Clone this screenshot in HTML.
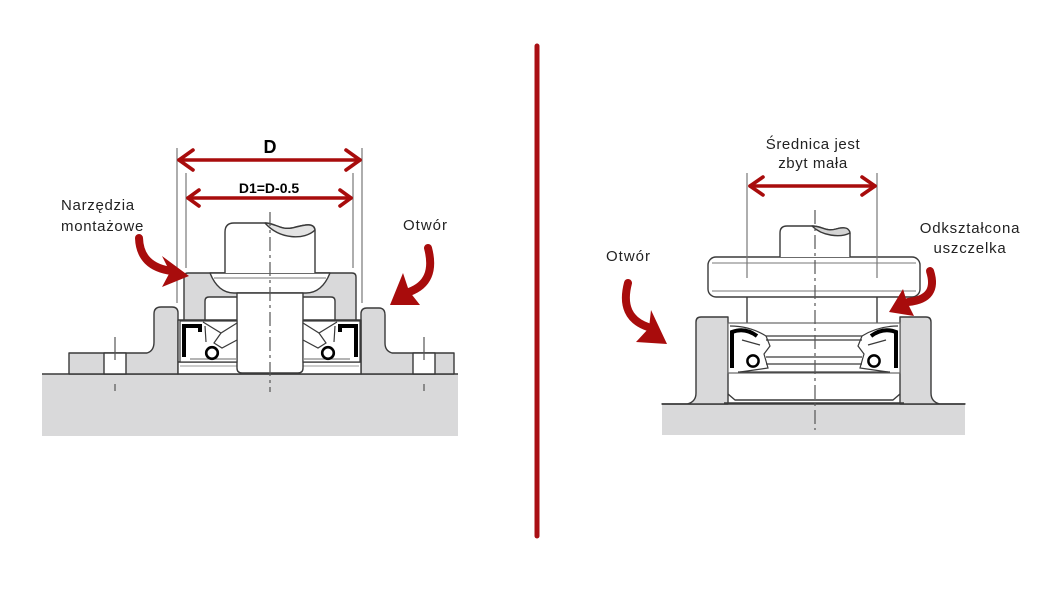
<!DOCTYPE html>
<html>
<head>
<meta charset="utf-8">
<style>
html,body{margin:0;padding:0;background:#fff;}
svg{display:block;}
text{font-family:"Liberation Sans","DejaVu Sans",sans-serif;fill:#222;}
</style>
</head>
<body>
<svg width="1050" height="600" viewBox="0 0 1050 600" xmlns="http://www.w3.org/2000/svg">
<rect width="1050" height="600" fill="#fff"/>

<!-- ============ LEFT DIAGRAM ============ -->
<g stroke="#3a3a3a" stroke-width="1.4" fill="#d9d9da" stroke-linejoin="round">
  <rect x="42" y="374" width="416" height="62" stroke="none"/>
  <line x1="42" y1="374" x2="458" y2="374"/>
  <path d="M69,374 V353 H147 Q154,351 154,342 V314 Q154,307 161,307 H172 Q178,307 178,313 V374 Z"/>
  <rect x="104" y="353" width="22" height="21" fill="#fff"/>
  <path d="M361,374 V314 Q361,308 367,308 H379 Q385,308 385,315 V343 Q385,351 392,353 H454 V374 Z"/>
  <rect x="413" y="353" width="22" height="21" fill="#fff"/>
  <rect x="178" y="320" width="183" height="54" fill="#fff"/>
  <line x1="178" y1="362" x2="361" y2="362"/>
  <line x1="180" y1="366" x2="359" y2="366" stroke="#999" stroke-width="1"/>
  <path d="M184,320 V277 Q184,273 188,273 H352 Q356,273 356,277 V320 Z"/>
  <path d="M205,320 V301 Q205,297 209,297 H331 Q335,297 335,301 V320 Z" fill="#fff"/>
  <path d="M210,273 Q218,293 234,293 H306 Q322,293 330,273 Z" fill="#fff"/>
  <line x1="214" y1="278" x2="326" y2="278" stroke="#777" stroke-width="1"/>
  <path d="M225,273 V232 Q225,223 234,223 H265 C275,223 280,230 292,228 C304,225 314,222 315,230 V273" fill="#fff"/>
  <path d="M265,223 C275,223 280,230 292,228 C304,225 314,222 315,230 C305,240 280,240 265,223 Z" fill="#e3e3e3"/>
  <path d="M237,293 V368 Q237,373 242,373 H298 Q303,373 303,368 V293 Z" fill="#fff"/>
</g>

<g id="sealL" fill="none" stroke="#3a3a3a" stroke-width="1.2">
  <rect x="180" y="321" width="57" height="41" fill="#fff"/>
  <path d="M203,322 L221,333 L237,323"/>
  <path d="M221,333 L214,343 L222,348 L237,340"/>
  <path d="M205,326 L206,342"/>
  <path d="M190,359 H237" stroke="#888"/>
  <path d="M184,357 V326 H200 V332" stroke="#000" stroke-width="4" stroke-linejoin="miter"/>
  <circle cx="212" cy="353" r="5.8" fill="#fff" stroke="#000" stroke-width="2.6"/>
</g>
<use href="#sealL" transform="translate(540,0) scale(-1,1)"/>

<g stroke="#555" stroke-width="1.2" fill="none">
  <line x1="270" y1="212" x2="270" y2="392" stroke-dasharray="14,4,3,4"/>
  <line x1="115" y1="337" x2="115" y2="360"/>
  <line x1="115" y1="384" x2="115" y2="391"/>
  <line x1="424" y1="337" x2="424" y2="360"/>
  <line x1="424" y1="384" x2="424" y2="391"/>
</g>
<g stroke="#777" stroke-width="1.2">
  <line x1="177" y1="148" x2="177" y2="303"/>
  <line x1="186" y1="173" x2="186" y2="268"/>
  <line x1="353" y1="173" x2="353" y2="268"/>
  <line x1="362" y1="148" x2="362" y2="303"/>
</g>
<g stroke="#a80c0c" stroke-width="3.6" fill="none" stroke-linecap="round" stroke-linejoin="round">
  <line x1="179" y1="160" x2="360" y2="160"/>
  <polyline points="193,150 179,160 193,170"/>
  <polyline points="346,150 360,160 346,170"/>
  <line x1="188" y1="198" x2="351" y2="198"/>
  <polyline points="199,190 188,198 199,206"/>
  <polyline points="340,190 351,198 340,206"/>
</g>
<text x="270" y="153" font-size="18" font-weight="bold" text-anchor="middle" style="fill:#000">D</text>
<text x="269" y="193" font-size="14" font-weight="bold" text-anchor="middle" style="fill:#000">D1=D-0.5</text>

<text x="61" y="210" font-size="15" letter-spacing="0.7">Narzędzia</text>
<text x="61" y="231" font-size="15" letter-spacing="0.7">montażowe</text>
<text x="403" y="230" font-size="15" letter-spacing="1">Otwór</text>

<g fill="#a80c0c">
  <path d="M139,238 Q140,267 172,271" fill="none" stroke="#a80c0c" stroke-width="8" stroke-linecap="round"/>
  <polygon points="189,276 162,256 170,272 162,287"/>
  <path d="M428,248 Q437,282 409,292" fill="none" stroke="#a80c0c" stroke-width="8" stroke-linecap="round"/>
  <polygon points="390,305 403,273 409,291 420,305"/>
</g>

<!-- ============ SEPARATOR ============ -->
<line x1="537" y1="46" x2="537" y2="536" stroke="#a90f14" stroke-width="5" stroke-linecap="round"/>

<!-- ============ RIGHT DIAGRAM ============ -->
<g stroke="#3a3a3a" stroke-width="1.4" fill="#d9d9da" stroke-linejoin="round">
  <rect x="662" y="404" width="303" height="31" stroke="none"/>
  <line x1="662" y1="404" x2="965" y2="404"/>
  <path d="M662,404 H687 Q696,402 696,393 V322 Q696,317 701,317 H728 V404 Z"/>
  <path d="M900,404 V317 H926 Q931,317 931,322 V393 Q931,402 940,404 H965 Z"/>
  <path d="M728,394 L735,400 H893 L900,394" fill="#fff"/>
  <line x1="724" y1="403" x2="904" y2="403"/>
  <rect x="708" y="257" width="212" height="40" rx="8" fill="#fff"/>
  <line x1="712" y1="263" x2="916" y2="263" stroke="#777" stroke-width="1"/>
  <line x1="712" y1="291" x2="916" y2="291" stroke="#777" stroke-width="1"/>
  <path d="M780,257 V233 Q780,226 787,226 H812 C822,226 826,232 836,229 C843,227 849,227 850,233 V257" fill="#fff"/>
  <path d="M812,226 C822,226 826,232 836,229 C843,227 849,227 850,233 C840,238 822,236 812,226 Z" fill="#d4d4d4"/>
  <line x1="747" y1="297" x2="747" y2="323"/>
  <line x1="877" y1="297" x2="877" y2="323"/>
</g>

<g fill="none" stroke="#3a3a3a" stroke-width="1.2">
  <rect x="728" y="323" width="172" height="50" fill="#fff" stroke="#666"/>
  <path d="M730,326 Q750,326 766,336 H862 Q878,326 898,326"/>
  <path d="M766,340 H862"/>
  <path d="M766,357 H862"/>
  <path d="M766,364 H862"/>
  <path d="M738,372 H890"/>
  <path d="M766,336 L770,346 L764,354 L768,368 L740,372"/>
  <path d="M862,336 L858,346 L864,354 L860,368 L888,372"/>
  <path d="M742,340 L760,345"/>
  <path d="M886,340 L868,345"/>
  <path d="M732,368 V332 Q745,327 757,336" stroke="#000" stroke-width="4"/>
  <path d="M896,368 V332 Q883,327 871,336" stroke="#000" stroke-width="4"/>
  <circle cx="753" cy="361" r="5.6" fill="#fff" stroke="#000" stroke-width="2.5"/>
  <circle cx="874" cy="361" r="5.6" fill="#fff" stroke="#000" stroke-width="2.5"/>
</g>

<line x1="815" y1="210" x2="815" y2="430" stroke="#555" stroke-width="1.2" stroke-dasharray="14,4,3,4"/>
<g stroke="#777" stroke-width="1.2">
  <line x1="747" y1="173" x2="747" y2="278"/>
  <line x1="877" y1="173" x2="877" y2="278"/>
</g>
<g stroke="#a80c0c" stroke-width="3.6" fill="none" stroke-linecap="round" stroke-linejoin="round">
  <line x1="750" y1="186" x2="875" y2="186"/>
  <polyline points="763,177 750,186 763,195"/>
  <polyline points="862,177 875,186 862,195"/>
</g>

<text x="813" y="149" font-size="15" letter-spacing="0.6" text-anchor="middle">Średnica jest</text>
<text x="813" y="168" font-size="15" letter-spacing="0.6" text-anchor="middle">zbyt mała</text>
<text x="970" y="233" font-size="15" letter-spacing="0.8" text-anchor="middle">Odkształcona</text>
<text x="970" y="253" font-size="15" letter-spacing="0.8" text-anchor="middle">uszczelka</text>
<text x="606" y="261" font-size="15" letter-spacing="1">Otwór</text>

<g fill="#a80c0c">
  <path d="M628,283 Q619,317 648,327" fill="none" stroke="#a80c0c" stroke-width="8" stroke-linecap="round"/>
  <polygon points="667,344 651,310 649,328 636,342"/>
  <path d="M930,271 Q939,299 908,302" fill="none" stroke="#a80c0c" stroke-width="8" stroke-linecap="round"/>
  <polygon points="889,312 903,289 907,302 914,316"/>
</g>
</svg>
</body>
</html>
